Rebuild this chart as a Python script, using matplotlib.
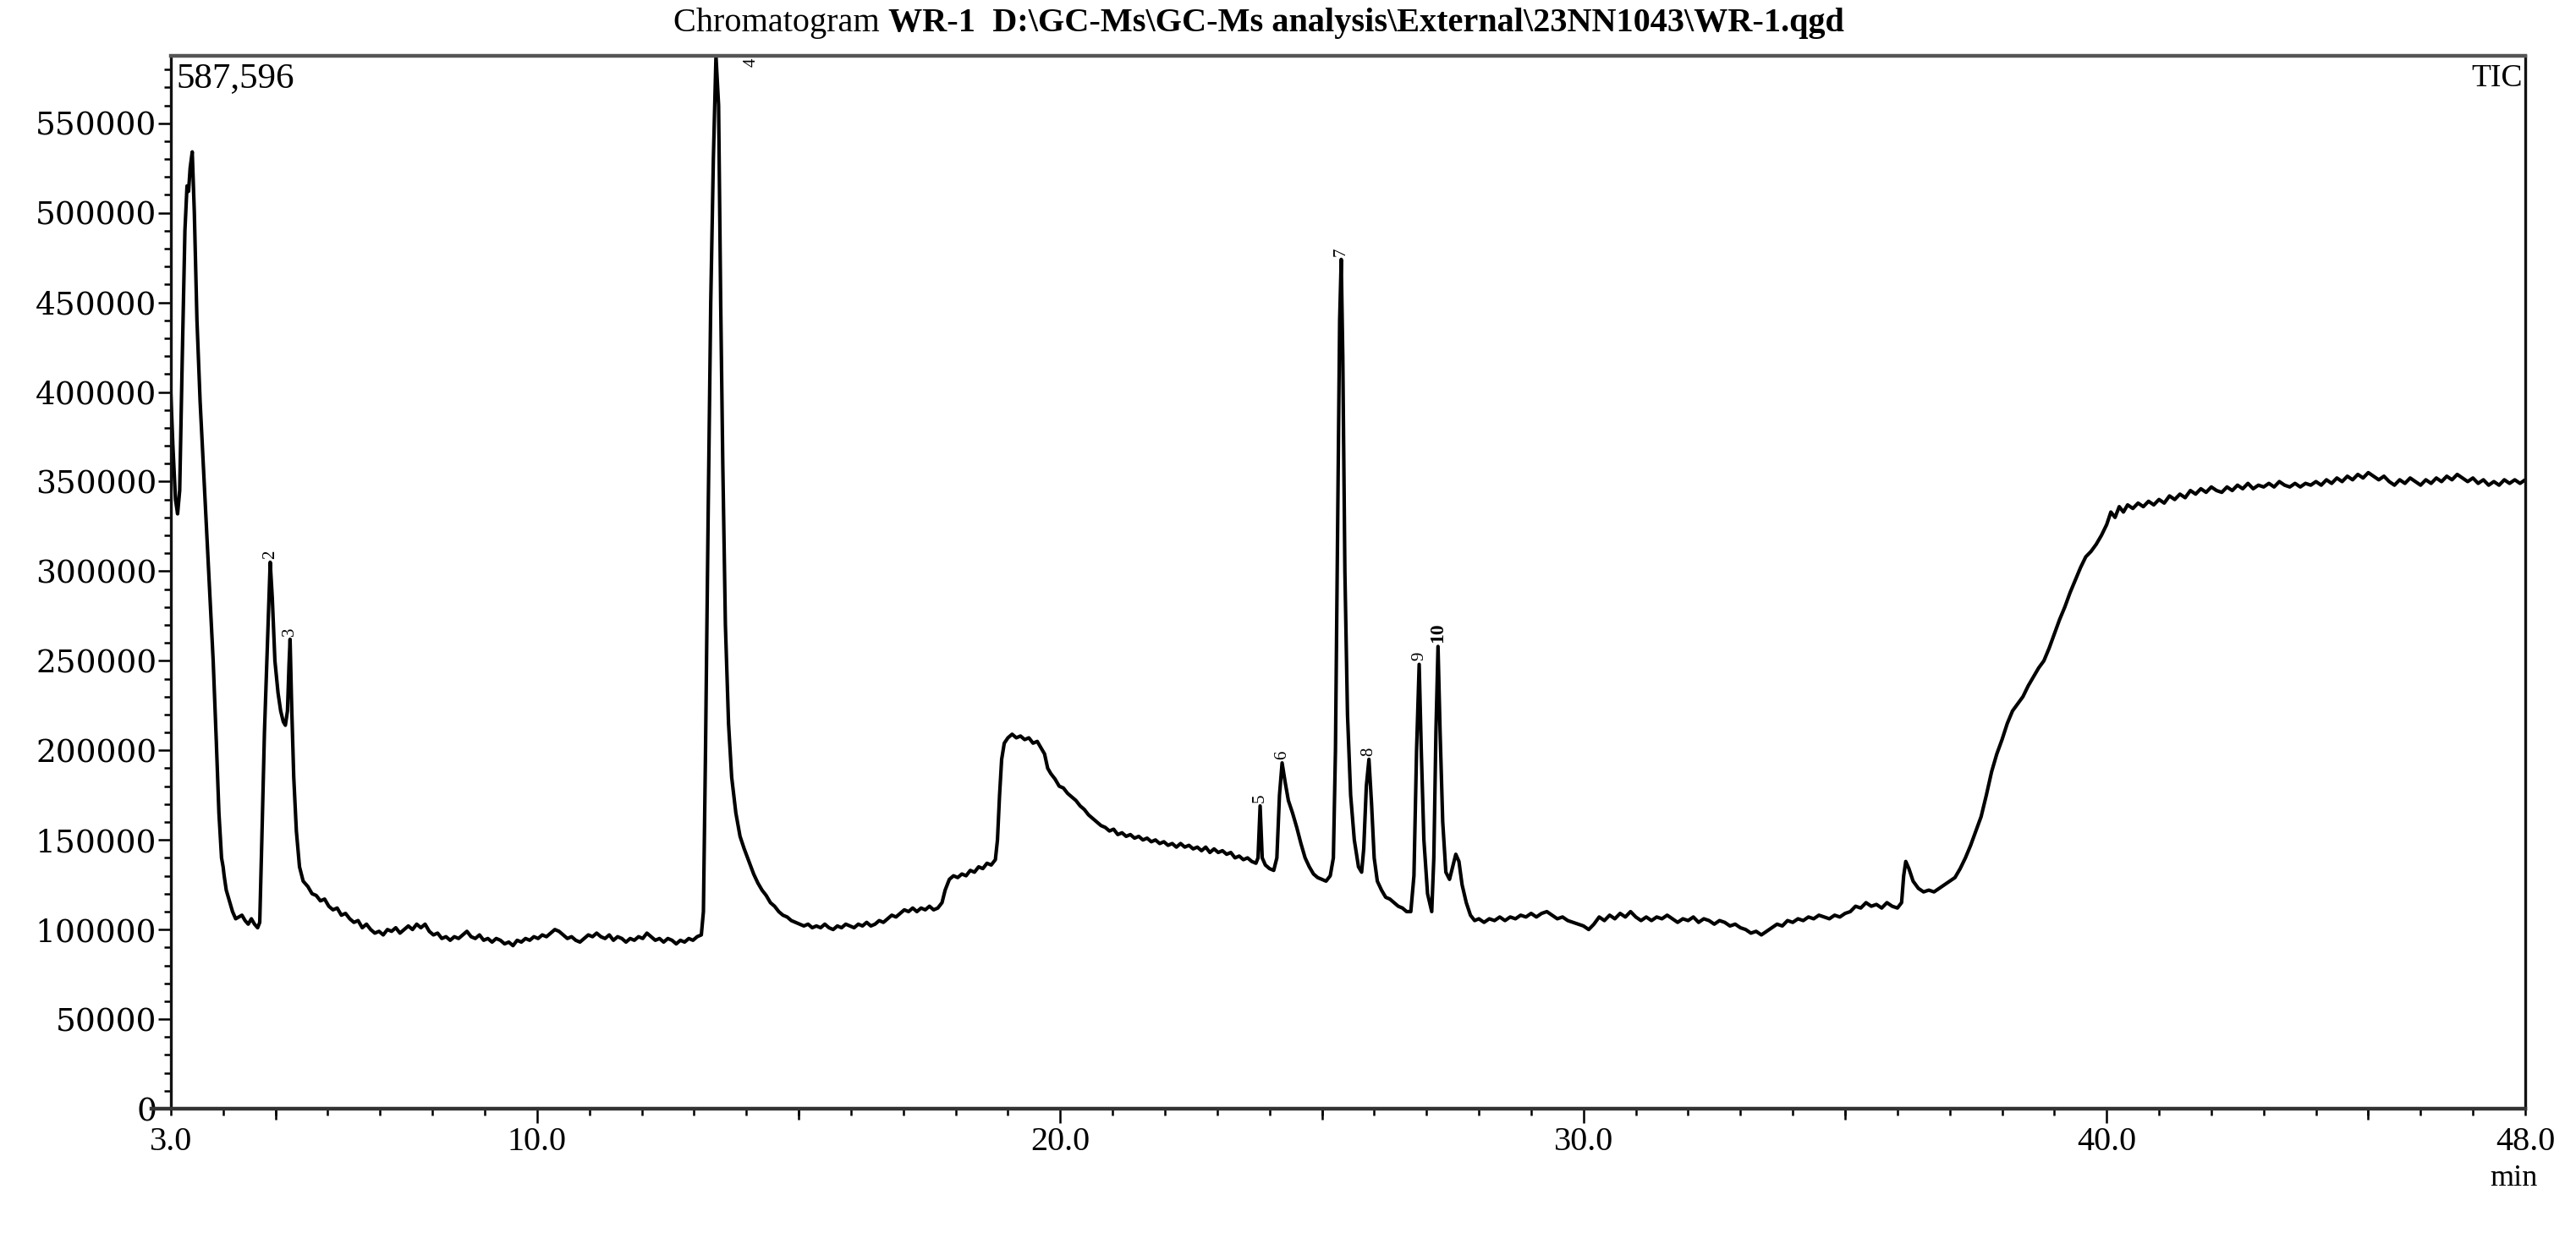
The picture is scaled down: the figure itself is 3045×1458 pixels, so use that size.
import matplotlib
matplotlib.use("Agg")
import matplotlib.pyplot as plt
from matplotlib.ticker import MultipleLocator, FixedLocator

# ---------------- data ----------------
rt_min = [
    3.00, 3.04, 3.09, 3.13, 3.17, 3.22, 3.27, 3.31, 3.34, 3.37, 3.41, 3.45, 3.50, 3.56, 3.62, 3.69, 3.75, 3.81,
    3.87, 3.92, 3.97, 4.00, 4.02, 4.06, 4.12, 4.18, 4.24, 4.30, 4.36, 4.42, 4.48, 4.54, 4.60, 4.66, 4.70,
    4.74, 4.79, 4.85, 4.90, 4.94, 4.99, 5.05, 5.10, 5.15, 5.19, 5.23, 5.26, 5.28, 5.31, 5.35, 5.40, 5.46, 5.53,
    5.62, 5.70, 5.78, 5.86, 5.94, 6.02, 6.10, 6.18, 6.26, 6.34, 6.42, 6.50, 6.58, 6.66, 6.74, 6.82, 6.90, 6.98,
    7.06, 7.14, 7.22, 7.30, 7.38, 7.46, 7.54, 7.62, 7.70, 7.78, 7.86, 7.94, 8.02, 8.10, 8.18, 8.26, 8.34, 8.42,
    8.50, 8.58, 8.66, 8.74, 8.82, 8.90, 8.98, 9.06, 9.14, 9.22, 9.30, 9.38, 9.46, 9.54, 9.62, 9.70, 9.78, 9.86,
    9.94, 10.02, 10.10, 10.18, 10.26, 10.34, 10.42, 10.50, 10.58, 10.66, 10.74, 10.82, 10.90, 10.98, 11.06,
    11.14, 11.22, 11.30, 11.38, 11.46, 11.54, 11.62, 11.70, 11.78, 11.86, 11.94, 12.02, 12.10, 12.18, 12.26,
    12.34, 12.42, 12.50, 12.58, 12.66, 12.74, 12.82, 12.90, 12.98, 13.06, 13.14,
    13.18, 13.22, 13.27, 13.32, 13.37, 13.42, 13.47, 13.51, 13.55, 13.60, 13.66, 13.72, 13.80, 13.88, 13.96,
    14.05, 14.14, 14.22, 14.30, 14.38, 14.46, 14.54, 14.62, 14.70, 14.78, 14.86, 14.94, 15.02, 15.10, 15.18,
    15.26, 15.34, 15.42, 15.50, 15.58, 15.66, 15.74, 15.82, 15.90, 15.98, 16.06, 16.14, 16.22, 16.30, 16.38,
    16.46, 16.54, 16.62, 16.70, 16.78, 16.86, 16.94, 17.02, 17.10, 17.18, 17.26, 17.34, 17.42, 17.50, 17.58,
    17.66, 17.74, 17.80, 17.88, 17.96, 18.04, 18.12, 18.20, 18.28, 18.36, 18.44, 18.52, 18.60, 18.68, 18.76,
    18.80, 18.84, 18.88, 18.93, 19.00, 19.08, 19.16, 19.24, 19.32, 19.40, 19.48, 19.56, 19.64, 19.70, 19.76,
    19.82, 19.90, 19.98, 20.06, 20.14, 20.22, 20.30, 20.38, 20.46, 20.54, 20.62, 20.70, 20.78, 20.86, 20.94,
    21.02, 21.10, 21.18, 21.26, 21.34, 21.42, 21.50, 21.58, 21.66, 21.74, 21.82, 21.90, 21.98, 22.06, 22.14,
    22.22, 22.30, 22.38, 22.46, 22.54, 22.62, 22.70, 22.78, 22.86, 22.94, 23.02, 23.10, 23.18, 23.26, 23.34,
    23.42, 23.50, 23.58, 23.66, 23.74, 23.78, 23.82, 23.86, 23.92, 24.00, 24.08, 24.14, 24.19, 24.24, 24.30,
    24.36, 24.44, 24.52, 24.60, 24.68, 24.76, 24.84, 24.92, 25.00, 25.08, 25.16, 25.22, 25.26, 25.30, 25.34,
    25.37, 25.40, 25.44, 25.49, 25.55, 25.62, 25.70, 25.76, 25.80, 25.85, 25.90, 25.95, 26.00, 26.06, 26.14,
    26.22, 26.30, 26.38, 26.46, 26.54, 26.62, 26.70, 26.76, 26.81, 26.86, 26.90, 26.95, 27.02, 27.10, 27.14,
    27.18, 27.22, 27.26, 27.31, 27.37, 27.44, 27.50, 27.56, 27.62, 27.68, 27.76, 27.84, 27.92,
    28.00, 28.10, 28.20, 28.30, 28.40, 28.50, 28.60, 28.70, 28.80, 28.90, 29.00, 29.10, 29.20, 29.30, 29.40,
    29.50, 29.60, 29.70, 29.80, 29.90, 30.00, 30.10, 30.20, 30.30, 30.40, 30.50, 30.60, 30.70, 30.80, 30.90,
    31.00, 31.10, 31.20, 31.30, 31.40, 31.50, 31.60, 31.70, 31.80, 31.90, 32.00, 32.10, 32.20, 32.30, 32.40,
    32.50, 32.60, 32.70, 32.80, 32.90, 33.00, 33.10, 33.20, 33.30, 33.40, 33.50, 33.60, 33.70, 33.80, 33.90,
    34.00, 34.10, 34.20, 34.30, 34.40, 34.50, 34.60, 34.70, 34.80, 34.90, 35.00, 35.10, 35.20, 35.30, 35.40,
    35.50, 35.60, 35.70, 35.80, 35.90, 36.00, 36.08, 36.12, 36.16, 36.22, 36.30, 36.40, 36.50, 36.60, 36.70,
    36.80, 36.90, 37.00, 37.10, 37.20, 37.30, 37.40, 37.50, 37.60, 37.70, 37.80, 37.90, 38.00, 38.10, 38.20,
    38.30, 38.40, 38.50, 38.60, 38.70, 38.80, 38.90, 39.00, 39.10, 39.20, 39.30, 39.40, 39.50, 39.60, 39.70,
    39.80, 39.90, 40.00, 40.08, 40.16, 40.24, 40.32, 40.40, 40.50, 40.60, 40.70, 40.80, 40.90, 41.00, 41.10,
    41.20, 41.30, 41.40, 41.50, 41.60, 41.70, 41.80, 41.90, 42.00, 42.10, 42.20, 42.30, 42.40, 42.50, 42.60,
    42.70, 42.80, 42.90, 43.00, 43.10, 43.20, 43.30, 43.40, 43.50, 43.60, 43.70, 43.80, 43.90, 44.00, 44.10,
    44.20, 44.30, 44.40, 44.50, 44.60, 44.70, 44.80, 44.90, 45.00, 45.10, 45.20, 45.30, 45.40, 45.50, 45.60,
    45.70, 45.80, 45.90, 46.00, 46.10, 46.20, 46.30, 46.40, 46.50, 46.60, 46.70, 46.80, 46.90, 47.00, 47.10,
    47.20, 47.30, 47.40, 47.50, 47.60, 47.70, 47.80, 47.90, 48.00,
]

tic_intensity = [
    400000, 370000, 340000, 332000, 345000, 420000, 490000, 515000, 512000, 525000, 534000, 500000, 440000,
    395000, 360000, 320000, 285000, 250000, 205000, 165000, 140000, 135000, 130000, 122000, 116000, 110000,
    106000, 107000, 108000, 105000, 103000, 106000, 103000, 101000, 104000,
    150000, 210000, 262000, 305000, 285000, 250000, 232000, 222000, 216000, 214000, 222000, 248000, 262000,
    225000, 185000, 155000, 135000, 127000,
    124000, 120000, 119000, 116000, 117000, 113000, 111000, 112000, 108000, 109000, 106000, 104000, 105000,
    101000, 103000, 100000, 98000, 99000,
    97000, 100000, 99000, 101000, 98000, 100000, 102000, 100000, 103000, 101000, 103000, 99000, 97000, 98000,
    95000, 96000, 94000, 96000,
    95000, 97000, 99000, 96000, 95000, 97000, 94000, 95000, 93000, 95000, 94000, 92000, 93000, 91000, 94000,
    93000, 95000, 94000,
    96000, 95000, 97000, 96000, 98000, 100000, 99000, 97000, 95000, 96000, 94000, 93000, 95000, 97000, 96000,
    98000, 96000, 95000, 97000, 94000, 96000, 95000, 93000, 95000, 94000, 96000, 95000, 98000, 96000, 94000,
    95000, 93000, 95000, 94000, 92000, 94000, 93000, 95000, 94000, 96000, 97000,
    110000, 200000, 330000, 450000, 530000, 587596, 560000, 450000, 360000, 270000, 215000, 185000, 165000,
    152000, 145000,
    138000, 131000, 126000, 122000, 119000, 115000, 113000, 110000, 108000, 107000, 105000, 104000, 103000,
    102000, 103000,
    101000, 102000, 101000, 103000, 101000, 100000, 102000, 101000, 103000, 102000, 101000, 103000, 102000,
    104000, 102000,
    103000, 105000, 104000, 106000, 108000, 107000, 109000, 111000, 110000, 112000, 110000, 112000, 111000,
    113000, 111000,
    112000, 115000, 122000, 128000, 130000, 129000, 131000, 130000, 133000, 132000, 135000, 134000, 137000,
    136000, 139000,
    150000, 175000, 195000, 204000, 207000, 209000, 207000, 208000, 206000, 207000, 204000, 205000, 201000,
    198000, 190000,
    187000, 184000, 180000, 179000, 176000, 174000, 172000, 169000, 167000, 164000, 162000, 160000, 158000,
    157000, 155000,
    156000, 153000, 154000, 152000, 153000, 151000, 152000, 150000, 151000, 149000, 150000, 148000, 149000,
    147000, 148000,
    146000, 148000, 146000, 147000, 145000, 146000, 144000, 146000, 143000, 145000, 143000, 144000, 142000,
    143000, 140000,
    141000, 139000, 140000, 138000, 137000, 140000, 169000, 140000, 136000, 134000, 133000, 140000, 175000,
    193000, 182000,
    172000, 165000, 157000, 148000, 140000, 135000, 131000, 129000, 128000, 127000, 130000, 140000, 200000,
    320000, 440000,
    474000, 420000, 300000, 220000, 175000, 150000, 135000, 132000, 145000, 180000, 195000, 170000, 140000,
    127000, 122000,
    118000, 117000, 115000, 113000, 112000, 110000, 110000, 130000, 200000, 248000, 200000, 150000, 120000,
    110000, 140000,
    210000, 258000, 210000, 160000, 132000, 128000, 135000, 142000, 138000, 125000, 115000, 108000, 105000,
    106000, 104000, 106000, 105000, 107000, 105000, 107000, 106000, 108000, 107000, 109000, 107000, 109000,
    110000, 108000,
    106000, 107000, 105000, 104000, 103000, 102000, 100000, 103000, 107000, 105000, 108000, 106000, 109000,
    107000, 110000,
    107000, 105000, 107000, 105000, 107000, 106000, 108000, 106000, 104000, 106000, 105000, 107000, 104000,
    106000, 105000,
    103000, 105000, 104000, 102000, 103000, 101000, 100000, 98000, 99000, 97000, 99000, 101000, 103000,
    102000, 105000,
    104000, 106000, 105000, 107000, 106000, 108000, 107000, 106000, 108000, 107000, 109000, 110000, 113000,
    112000, 115000,
    113000, 114000, 112000, 115000, 113000, 112000, 115000, 130000, 138000, 134000, 127000, 123000, 121000,
    122000, 121000,
    123000, 125000, 127000, 129000, 134000, 140000, 147000, 155000, 163000, 175000, 188000, 198000, 206000,
    215000, 222000,
    226000, 230000, 236000, 241000, 246000, 250000, 257000, 265000, 273000, 280000, 288000, 295000, 302000,
    308000, 311000,
    315000, 320000, 326000, 333000, 330000, 336000, 333000, 337000, 335000, 338000, 336000, 339000, 337000,
    340000, 338000,
    342000, 340000, 343000, 341000, 345000, 343000, 346000, 344000, 347000, 345000, 344000, 347000, 345000,
    348000, 346000,
    349000, 346000, 348000, 347000, 349000, 347000, 350000, 348000, 347000, 349000, 347000, 349000, 348000,
    350000, 348000,
    351000, 349000, 352000, 350000, 353000, 351000, 354000, 352000, 355000, 353000, 351000, 353000, 350000,
    348000, 351000,
    349000, 352000, 350000, 348000, 351000, 349000, 352000, 350000, 353000, 351000, 354000, 352000, 350000,
    352000, 349000,
    351000, 348000, 350000, 348000, 351000, 349000, 351000, 349000, 351000,
]
assert len(rt_min) == len(tic_intensity), (len(rt_min), len(tic_intensity))

peak_numbers = ["2", "3", "4", "5", "6", "7", "8", "9", "10"]
peak_rt = [4.90, 5.28, 13.42, 23.82, 24.24, 25.37, 25.90, 26.86, 27.22]
peak_height = [305000, 262000, 587596, 169000, 193000, 474000, 195000, 248000, 258000]

y_tick_values = [0, 50000, 100000, 150000, 200000, 250000, 300000, 350000, 400000, 450000, 500000, 550000]
y_tick_labels = ["0", "50000", "100000", "150000", "200000", "250000", "300000", "350000", "400000",
                 "450000", "500000", "550000"]
x_tick_values = [3, 10, 20, 30, 40, 48]
x_tick_labels = ["3.0", "10.0", "20.0", "30.0", "40.0", "48.0"]
x_mid_ticks = [5, 15, 25, 35, 45]
max_intensity_label = "587,596"
title_plain = "Chromatogram "
title_bold = r"WR-1  D:\GC-Ms\GC-Ms analysis\External\23NN1043\WR-1.qgd"

# ---------------- figure ----------------
SERIF = ["Liberation Serif", "DejaVu Serif"]
fig = plt.figure(figsize=(30.45, 14.58), dpi=100)
ax = fig.add_axes([0.0663, 0.1008, 0.9140, 0.8539])

ax.plot(rt_min, tic_intensity, color="black", lw=3.0, solid_joinstyle="round")
ax.set_xlim(3, 48)
ax.set_ylim(0, 587596)

# y axis
ax.yaxis.set_major_locator(FixedLocator(y_tick_values))
ax.set_yticklabels(y_tick_labels)
ax.yaxis.set_minor_locator(MultipleLocator(10000))
ax.tick_params(axis="y", which="major", direction="out", length=11, width=1.8, pad=1, labelsize=27)
ax.tick_params(axis="y", which="minor", direction="out", length=6, width=1.8)
for tl in ax.get_yticklabels():
    tl.set_family(["DejaVu Serif"])

# x axis
ax.set_xticks(x_tick_values, x_tick_labels)
ax.xaxis.set_minor_locator(MultipleLocator(1))
ax.tick_params(axis="x", which="major", direction="out", length=12, width=1.8, pad=3, labelsize=29)
ax.tick_params(axis="x", which="minor", direction="out", length=6, width=1.8)
for tl in ax.get_xticklabels():
    tl.set_family(SERIF)
for tk in ax.xaxis.get_major_ticks():
    if tk.get_loc() in (3, 48):
        tk.tick1line.set_markersize(6)
sec = ax.secondary_xaxis("bottom")
sec.set_xticks(x_mid_ticks)
sec.tick_params(axis="x", which="major", direction="out", length=9, width=1.8, labelbottom=False)
sec.spines["bottom"].set_visible(False)

for name, sp in ax.spines.items():
    sp.set_linewidth(2.4)
    sp.set_color("#111111")
ax.spines["top"].set_linewidth(3.2)
ax.spines["top"].set_color("#555555")
ax.spines["bottom"].set_linewidth(3.2)
ax.spines["bottom"].set_color("#333333")
ax.spines["bottom"].set_bounds(2.63, 48)

# peak labels
for num, t, h in zip(peak_numbers, peak_rt, peak_height):
    if num == "4":
        ax.annotate(num, (t, h), xytext=(30, -2), textcoords="offset points", rotation=90,
                    ha="center", va="top", fontsize=15, family=SERIF)
    else:
        ax.annotate(num, (t, h), xytext=(0, 3), textcoords="offset points", rotation=90,
                    ha="center", va="bottom", fontsize=15 if num != "10" else 17, family=SERIF,
                    fontweight="bold" if num == "10" else "normal")

# texts
title_y = 1 - 27 / 1458
renderer = fig.canvas.get_renderer()
t1 = fig.text(796 / 3045, title_y, title_plain, ha="left", va="center", fontsize=29, family=SERIF)
w1 = t1.get_window_extent(renderer).width
fig.text((796 + w1) / 3045, title_y, title_bold, ha="left", va="center", fontsize=29,
         family=SERIF, fontweight="bold")
fig.text(208 / 3045, 1 - 93 / 1458, max_intensity_label, ha="left", va="center", fontsize=31, family=SERIF)
fig.text(2982 / 3045, 1 - 93 / 1458, "TIC", ha="right", va="center", fontsize=27, family=SERIF)
fig.text(2971 / 3045, 1 - 1394 / 1458, "min", ha="center", va="center", fontsize=26, family=SERIF)

fig.savefig("out.png", dpi=100, facecolor="white")
